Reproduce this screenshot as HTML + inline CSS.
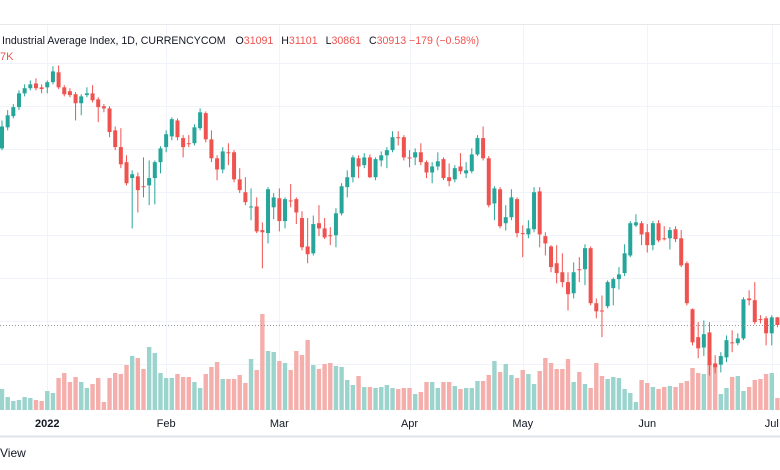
<!DOCTYPE html>
<html><head><meta charset="utf-8">
<style>
html,body{margin:0;padding:0;background:#fff;width:780px;height:470px;overflow:hidden;font-family:"Liberation Sans",sans-serif;}
svg text{font-family:"Liberation Sans",sans-serif;}
</style></head>
<body>
<svg id="chart" width="780" height="470" viewBox="0 0 780 470" xmlns="http://www.w3.org/2000/svg">
<rect x="0" y="0" width="780" height="470" fill="#ffffff"/>
<line x1="0" y1="24.5" x2="780" y2="24.5" stroke="#e6e8ec"/>
<g id="grid"></g>
<g id="vol"></g>
<g id="candles"></g>
<line x1="0" y1="325.5" x2="780" y2="325.5" stroke="#9598a1" stroke-dasharray="1 2"/>
<text x="2" y="44" font-size="10.6" fill="#131722">Industrial Average Index, 1D, CURRENCYCOM<tspan dx="10">O</tspan><tspan fill="#ef5350">31091</tspan><tspan dx="8">H</tspan><tspan fill="#ef5350">31101</tspan><tspan dx="8">L</tspan><tspan fill="#ef5350">30861</tspan><tspan dx="8">C</tspan><tspan fill="#ef5350">30913 −179 (−0.58%)</tspan></text>
<text x="0" y="60" font-size="11" fill="#ef5350">7K</text>
<line x1="0" y1="436.5" x2="780" y2="436.5" stroke="#e0e3eb" stroke-width="2"/>
<g id="xlabels"></g>
<text x="0" y="457" font-size="12" fill="#131722">View</text>
</svg>
<script>
const opens=[35020,35510,35770,35980,36300,36420,36530,36440,36440,36560,36790,36440,36350,36280,36070,36260,36300,36160,36000,35950,35440,35050,34700,34330,34370,34140,34160,34330,34700,35050,35300,35670,35260,35140,35140,35490,35840,35230,34790,34530,34930,34930,34300,34000,33650,33670,33120,33050,33650,33860,33330,33810,33840,33400,32740,32580,33280,33160,33000,33000,33510,34120,34350,34790,34630,34810,34350,34740,34860,34980,35280,35280,34810,34810,34930,34700,34460,34600,34770,34350,34300,34600,34440,34490,34880,35260,34790,33740,34070,33280,33420,33840,33050,33020,33140,34020,32980,32740,32350,32140,31910,31650,32210,32210,32700,31420,31250,31350,31770,31980,32120,32530,33230,33280,33070,32770,33280,32930,32930,33140,32930,32350,31280,30630,30390,30740,30020,29990,30160,30510,30490,30600,31530,31490,31050,31070,30720,31091];
const highs=[35670,35910,36050,36370,36510,36600,36650,36510,36600,36930,36950,36490,36420,36330,36280,36440,36490,36210,36050,36000,35530,35490,34860,34510,34460,34810,34740,34740,35070,35440,35740,35720,35330,35330,35580,35950,35880,35440,34860,35050,35140,34980,34560,34350,34090,33880,33300,34120,33980,34090,33880,34190,33880,33560,33400,33460,33700,33400,33190,33630,34210,34510,34860,34860,34910,34880,34810,34950,35050,35420,35420,35330,34980,35020,35140,34740,34700,34930,34810,34670,34630,34910,34700,35020,35330,35530,34840,34140,34120,33700,34070,33880,33230,33350,34120,34120,33070,32770,32770,32580,32140,32370,32490,32790,32740,31530,31600,31950,32020,32260,32790,33330,33490,33330,33260,33330,33350,33210,33190,33210,33120,32390,31300,30980,31020,30980,30210,30280,30670,30790,30720,31560,31720,31910,31140,31120,31140,31101];
const lows=[34980,35440,35720,35910,36230,36370,36370,36300,36300,36510,36400,36230,36210,35670,35790,36210,36090,35630,35860,35280,34980,34560,34160,33160,33530,33880,33700,33720,34440,34930,35210,35210,34810,35050,35090,35440,35160,34700,34280,34440,34630,34230,33980,33700,33350,33050,32230,32810,33370,33090,33160,33650,33260,32650,32350,32530,32980,32910,32770,32720,33460,33880,34230,34330,34560,34330,34280,34600,34560,34930,35090,34740,34580,34630,34630,34330,34210,34510,34280,34140,34230,34420,34330,34440,34840,34740,33650,33350,33160,33110,33350,32950,32490,32930,33070,32720,32530,32140,31880,31790,31250,31530,31910,31840,31370,31070,30630,31300,31370,31740,32050,32490,33190,32770,32600,32650,32840,32880,32670,32840,32260,31370,30440,30140,30190,29740,29790,29810,30050,30280,30440,30560,31370,30930,30950,30440,30440,30861];
const closes=[35530,35790,35980,36300,36420,36510,36420,36400,36560,36810,36440,36280,36260,36070,36230,36300,36140,35980,35950,35400,35050,34650,34210,34420,34050,34120,34330,34700,35020,35350,35700,35280,35050,35130,35510,35860,35230,34790,34530,34950,34910,34300,34050,33770,33670,33090,33070,34070,33880,33330,33840,33800,33530,32720,32560,33260,33160,32950,32990,33510,34140,34350,34810,34600,34810,34350,34770,34860,34980,35280,35260,34810,34800,34930,34700,34460,34600,34720,34330,34260,34560,34490,34510,34880,35260,34790,33700,34090,33210,33420,33880,33050,33040,33160,34000,33020,32810,32260,32120,31910,31630,32140,32200,32700,31420,31230,31240,31910,31980,32090,32580,33280,33300,33020,32770,33280,32880,32920,33120,32910,32300,31420,30510,30370,30700,29980,29930,30190,30560,30500,30600,31510,31490,30980,31040,30720,31090,30913];
const volumes=[21,13,9,10,13,12,10,9,19,17,32,37,28,33,28,22,26,32,8,32,37,36,45,54,52,41,63,57,37,32,32,36,33,33,28,22,36,43,48,31,31,31,35,27,51,40,96,59,58,49,47,40,59,55,70,45,41,46,47,44,43,30,25,34,23,23,22,23,25,22,21,22,22,16,18,28,28,22,28,28,24,21,22,22,29,29,35,49,38,46,35,32,40,36,26,39,52,47,41,41,51,28,38,26,22,47,34,31,33,32,21,17,8,30,27,23,21,23,24,23,27,29,42,37,36,47,45,16,22,33,34,19,23,30,31,36,37,12];
const monthLabels=["2022","Feb","Mar","Apr","May","Jun","Jul"];
const monthIndex=[8,29,49,72,92,114,136];
const priceTicks=[30000,31000,32000,33000,34000,35000,36000,37000];

const NS="http://www.w3.org/2000/svg";
const xOf=i=>2+i*5.66;
const yOf=p=>325-(p-30913)*0.043;
const vBase=410;
const vOf=v=>vBase-v*1.0;
const UP="#26a69a",DN="#ef5350",UPV="#9bd3cd",DNV="#f4aeab";
function mk(tag,attrs,parent){const e=document.createElementNS(NS,tag);for(const k in attrs)e.setAttribute(k,attrs[k]);parent.appendChild(e);return e;}
const grid=document.getElementById('grid');
priceTicks.forEach((p)=>{
  const y=Math.round(yOf(p))+0.5;
  const l=mk('line',{x1:0,x2:780,y1:y,y2:y,stroke:'#f0f3fa'},grid);
  
  
});
const vg=mk('line',{x1:0,x2:780,y1:364.5,y2:364.5,stroke:'#f0f3fa'},grid);


const xl=document.getElementById('xlabels');
monthIndex.forEach((mi,k)=>{
  const x=Math.round(xOf(mi))+0.5;
  const l=mk('line',{x1:x,x2:x,y1:25,y2:412,stroke:'#f0f3fa'},grid);
  
  
  const t=mk('text',{x:xOf(mi),y:427,'font-size':11,'text-anchor':'middle',fill:'#131722','font-weight':k===0?'bold':'normal'},xl);
  t.textContent=monthLabels[k];
  
  
});
const vol=document.getElementById('vol'),cg=document.getElementById('candles');
for(let i=0;i<closes.length;i++){
  const up=closes[i]>=opens[i];
  const x=xOf(i);
  const b=mk('rect',{x:x-2.2,y:vOf(volumes[i]),width:4.4,height:vBase-vOf(volumes[i]),fill:up?UPV:DNV},vol);
  
  
  const c=up?UP:DN;
  const w=mk('line',{x1:x,x2:x,y1:yOf(highs[i]),y2:yOf(lows[i]),stroke:c,'stroke-width':1},cg);
  
  
  const top=yOf(Math.max(opens[i],closes[i])),bot=yOf(Math.min(opens[i],closes[i]));
  const r=mk('rect',{x:x-2,y:top,width:4,height:Math.max(1,bot-top),fill:c},cg);
  
  
}
</script>
</body></html>
